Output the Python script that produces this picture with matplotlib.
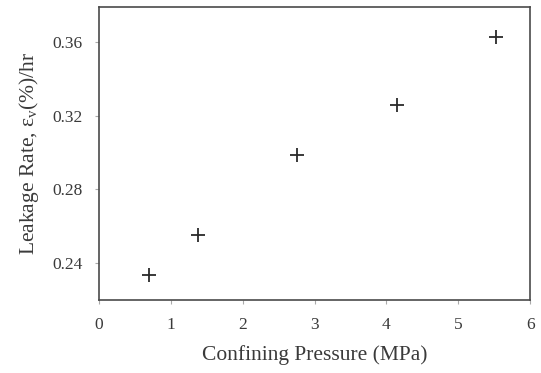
import matplotlib
matplotlib.use("Agg")
import matplotlib.pyplot as plt

plt.rcParams["font.family"] = ["Liberation Serif", "DejaVu Serif"]
plt.rcParams["mathtext.fontset"] = "custom"
plt.rcParams["mathtext.rm"] = "Liberation Serif"
plt.rcParams["mathtext.it"] = "Liberation Serif:italic"

# data
pressure = [0.69, 1.38, 2.76, 4.14, 5.52]        # MPa
leak_rate = [0.2335, 0.2555, 0.2985, 0.3257, 0.3627]  # (%)/hr

x_ticks = [0, 1, 2, 3, 4, 5, 6]
y_ticks = [0.24, 0.28, 0.32, 0.36]

ink = "#3a3a3a"

fig = plt.figure(figsize=(5.41, 3.73), dpi=100)
ax = fig.add_axes([0.183, 0.196, 0.797, 0.785])

ax.plot(pressure, leak_rate, linestyle="none", marker="+",
        markersize=10, markeredgewidth=1.3, color="#2a2a2a")

ax.set_xlim(0, 6)
ax.set_ylim(0.22, 0.379)
ax.set_xticks(x_ticks)
ax.set_yticks(y_ticks)
ax.set_yticklabels([f"{v:.2f}" for v in y_ticks])

for s in ax.spines.values():
    s.set_color("#4a4a4a")
    s.set_linewidth(1.2)

ax.tick_params(direction="out", length=3, width=0.8, colors="#aaaaaa",
               labelcolor=ink, labelsize=12.5, pad=9)

ax.set_xlabel("Confining Pressure (MPa)", fontsize=15.5, color=ink, labelpad=9)
ax.set_ylabel(r"Leakage Rate, ε$_{\mathrm{v}}$(%)/hr", fontsize=15.5, color=ink, labelpad=8)

fig.savefig("out.png", dpi=100, facecolor="white")
